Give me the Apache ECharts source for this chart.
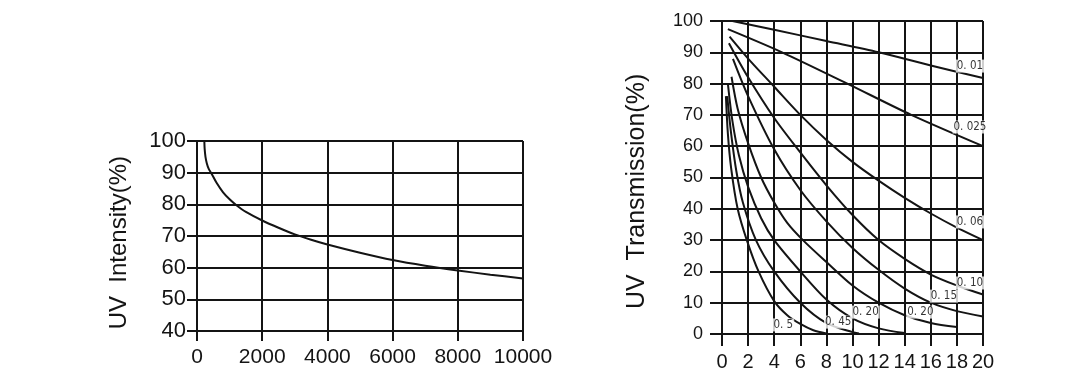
<!DOCTYPE html>
<html>
<head>
<meta charset="utf-8">
<script src="https://cdn.jsdelivr.net/npm/echarts@6/dist/echarts.min.js"></script>
<style>
html,body{margin:0;padding:0;background:#fff;}
#c{width:1074px;height:383px;}
</style>
</head>
<body>
<div id="c"></div>
<script>
// ---- Left chart: UV Intensity vs hours ----
const leftHours = [225, 235, 260, 300, 360, 430, 600, 800, 1000, 1200, 1500, 2000, 2500, 3000, 3500, 4000, 5000, 6000, 7000, 8000, 9000, 10000];
const leftIntensity = [100, 97.5, 95, 93, 91.2, 90, 86.8, 83.8, 81.6, 79.8, 77.6, 74.9, 72.6, 70.5, 68.8, 67.3, 64.7, 62.4, 60.6, 59.1, 57.8, 56.6];
const leftXTicks = ['0', '2000', '4000', '6000', '8000', '10000'];
const leftYTicks = ['40', '50', '60', '70', '80', '90', '100'];

// ---- Right chart: UV Transmission vs thickness, per curve ----
const c001X = [0.8, 4, 8, 12, 16, 20];
const c001Y = [100, 97.2, 93.6, 90, 85.8, 81.8];
const c0025X = [0.45, 4.6, 9.6, 14.5, 20];
const c0025Y = [97.4, 90, 80, 70, 60];
const c006X = [0.58, 2, 4, 6, 8, 10, 12, 14, 16, 18, 20];
const c006Y = [95, 88, 79, 70, 62, 55, 49, 43.5, 38.5, 34, 30];
const c010X = [0.53, 2, 4, 6, 8, 10, 12, 14, 16, 18, 20];
const c010Y = [92.9, 82, 69, 58, 47.5, 38, 30, 24, 19, 15.5, 12.6];
const c015X = [0.84, 2, 4, 6, 8, 10, 12, 14, 16, 18, 20];
const c015Y = [87.9, 76, 59, 46, 36, 27.5, 20.5, 14.5, 10, 7.3, 5.6];
const c020bX = [0.73, 1.2, 2, 3, 4, 5, 6.2, 8, 10, 12, 14, 16, 18];
const c020bY = [82.2, 72, 61, 50, 42, 35.5, 30, 23, 15.5, 10, 6, 3.5, 2.2];
const c020aX = [0.46, 0.8, 1.3, 2, 3, 4, 6, 8, 10, 12, 14];
const c020aY = [79.6, 68, 57, 47, 37, 30, 20, 11, 5, 1.8, 0.3];
const c045X = [0.4, 0.7, 1.1, 1.6, 2.6, 4, 6, 8, 10, 10.5];
const c045Y = [76, 64, 52, 42, 30, 20, 10, 3.5, 0.6, 0.2];
const c050X = [0.3, 0.45, 0.7, 1.2, 1.9, 2.8, 4, 5, 6, 7, 8];
const c050Y = [76, 64, 53, 40, 30, 20, 10.5, 6, 3.2, 1.2, 0.2];
const rightXTicks = ['0', '2', '4', '6', '8', '10', '12', '14', '16', '18', '20'];
const rightYTicks = ['0', '10', '20', '30', '40', '50', '60', '70', '80', '90', '100'];

// curve labels: [x, y, text]
const curveLabelX = [19.0, 19.0, 19.0, 19.0, 17.0, 15.2, 11.0, 8.9, 4.7];
const curveLabelY = [85.6, 66.1, 35.8, 16.3, 12.1, 7.0, 7.0, 3.8, 2.9];
const curveLabelText = ['0. 01', '0. 025', '0. 06', '0. 10', '0. 15', '0. 20', '0. 20', '0. 45', '0. 5'];

const ink = '#141414';
const font = 'Liberation Sans, Arial, sans-serif';
const zip = (xs, ys) => xs.map((x, i) => [x, ys[i]]);

function axisCommon(tickLen) {
  return {
    axisLine: { show: true, onZero: false, lineStyle: { color: ink, width: 2 } },
    axisTick: { show: true, inside: false, length: tickLen, lineStyle: { color: ink, width: 2 } },
    splitLine: { show: true, lineStyle: { color: ink, width: 2 } }
  };
}

const curves = [
  [c001X, c001Y], [c0025X, c0025Y], [c006X, c006Y], [c010X, c010Y], [c015X, c015Y],
  [c020bX, c020bY], [c020aX, c020aY], [c045X, c045Y], [c050X, c050Y]
];

const series = [{
  type: 'line', xAxisIndex: 0, yAxisIndex: 0, data: zip(leftHours, leftIntensity),
  smooth: 0.3, showSymbol: false, lineStyle: { color: ink, width: 2 }, silent: true
}];
curves.forEach(c => series.push({
  type: 'line', xAxisIndex: 1, yAxisIndex: 1, data: zip(c[0], c[1]),
  smooth: 0.3, showSymbol: false, lineStyle: { color: ink, width: 2 }, silent: true
}));
series.push({
  type: 'scatter', xAxisIndex: 1, yAxisIndex: 1, symbolSize: 0, silent: true, z: 10,
  data: curveLabelX.map((x, i) => ({ value: [x, curveLabelY[i]], name: curveLabelText[i] })),
  label: {
    show: true, position: [0, 0], align: 'center', verticalAlign: 'middle',
    formatter: p => p.name, color: '#000', fontSize: 11.5,
    fontFamily: 'Liberation Sans Narrow, DejaVu Sans Condensed, Liberation Sans, Arial, sans-serif',
    backgroundColor: '#fff', padding: [1, 1, 0, 1]
  }
});

const option = {
  backgroundColor: '#fff',
  animation: false,
  grid: [
    { left: 197, right: 551, top: 141, bottom: 52 },
    { left: 722, right: 91, top: 21, bottom: 49 }
  ],
  xAxis: [
    Object.assign({
      type: 'value', gridIndex: 0, min: 0, max: 10000, interval: 2000,
      axisLabel: { color: ink, fontSize: 21, fontFamily: font, margin: 16,
        formatter: (v) => leftXTicks[Math.round(v / 2000)] }
    }, axisCommon(10)),
    Object.assign({
      type: 'value', gridIndex: 1, min: 0, max: 20, interval: 2,
      axisLabel: { color: ink, fontSize: 20, fontFamily: font, margin: 18,
        formatter: (v) => rightXTicks[Math.round(v / 2)] }
    }, axisCommon(12))
  ],
  yAxis: [
    Object.assign({
      type: 'value', gridIndex: 0, min: 40, max: 100, interval: 10,
      name: 'UV  Intensity(%)  ', nameLocation: 'middle', nameGap: 66,
      nameTextStyle: { color: ink, fontSize: 24, fontFamily: font },
      axisLabel: { color: ink, fontSize: 22, fontFamily: font, margin: 11,
        formatter: (v) => leftYTicks[Math.round((v - 40) / 10)] }
    }, axisCommon(10)),
    Object.assign({
      type: 'value', gridIndex: 1, min: 0, max: 100, interval: 10,
      name: 'UV  Transmission(%)    ', nameLocation: 'middle', nameGap: 72,
      nameTextStyle: { color: ink, fontSize: 25, fontFamily: font },
      axisLabel: { color: ink, fontSize: 18, fontFamily: font, margin: 19,
        formatter: (v) => rightYTicks[Math.round(v / 10)] }
    }, axisCommon(12))
  ],
  series: series
};

const chart = echarts.init(document.getElementById('c'), null, { renderer: 'canvas' });
chart.setOption(option);
</script>
</body>
</html>
